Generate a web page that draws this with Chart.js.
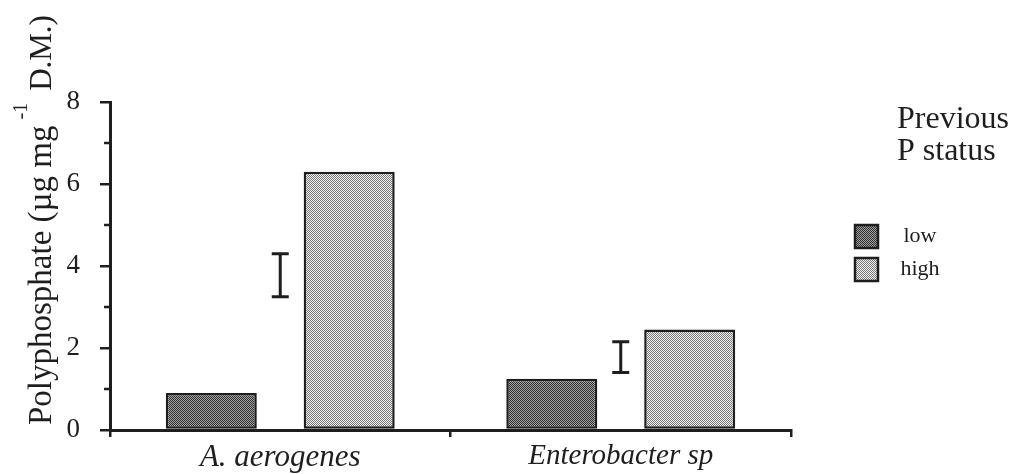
<!DOCTYPE html>
<html>
<head>
<meta charset="utf-8">
<title>Polyphosphate content</title>
<script src="https://cdn.jsdelivr.net/npm/chart.js@4.4.1/dist/chart.umd.min.js"></script>
<style>
  html, body { margin: 0; padding: 0; background: #fff; }
  #wrap { width: 1017px; height: 474px; }
</style>
</head>
<body>
<div id="wrap"><canvas id="polyChart" width="1017" height="474"></canvas></div>
<script>
// data
const categories = ['A. aerogenes', 'Enterobacter sp'];
const lowStatus = [0.9, 1.25];
const highStatus = [6.3, 2.45];
const errLow = [3.25, 1.4];    // bottom of the error bar per organism
const errHigh = [4.3, 2.15];   // top of the error bar per organism
const yTicks = [0, 2, 4, 6, 8];
const yMinorTicks = [1, 3, 5, 7];
const seriesNames = ['low', 'high'];
const legendTitle = ['Previous', 'P status'];

const ink = '#1e1e1e';
const serif = '"Liberation Serif", "Times New Roman", serif';

const canvas = document.getElementById('polyChart');
const ctx2d = canvas.getContext('2d');

// small checker tile used as a stippled fill
function stipple(dark, light) {
    const c = document.createElement('canvas');
    c.width = 2; c.height = 2;
    const g = c.getContext('2d');
    g.fillStyle = light;
    g.fillRect(0, 0, 2, 2);
    g.fillStyle = dark;
    g.fillRect(0, 0, 1, 1);
    g.fillRect(1, 1, 1, 1);
    return ctx2d.createPattern(c, 'repeat');
}
const lowFill = stipple('#2e2e2e', '#a4a4a4');
const highFill = stipple('#777777', '#f2f2f2');

// minor ticks on y and the error bars between each pair of bars
const axisExtras = {
    id: 'axisExtras',
    afterDraw(chart) {
        const { ctx, scales: { x, y } } = chart;
        ctx.save();
        ctx.strokeStyle = ink;
        ctx.lineWidth = 2.5;
        yMinorTicks.forEach(v => {
            const py = y.getPixelForValue(v);
            ctx.beginPath();
            ctx.moveTo(x.left - 6, py);
            ctx.lineTo(x.left, py);
            ctx.stroke();
        });
        ctx.lineWidth = 3;
        errLow.forEach((lo, i) => {
            const px = x.getPixelForValue(i);
            const top = y.getPixelForValue(errHigh[i]);
            const bot = y.getPixelForValue(lo);
            ctx.beginPath();
            ctx.moveTo(px, top); ctx.lineTo(px, bot);
            ctx.moveTo(px - 8.5, top); ctx.lineTo(px + 8.5, top);
            ctx.moveTo(px - 8.5, bot); ctx.lineTo(px + 8.5, bot);
            ctx.stroke();
        });
        ctx.restore();
    }
};

// rotated y title with the superscript unit
const yTitle = {
    id: 'yTitle',
    afterDraw(chart) {
        const { ctx, chartArea } = chart;
        ctx.save();
        ctx.translate(51, chartArea.bottom - 5);
        ctx.rotate(-Math.PI / 2);
        ctx.fillStyle = ink;
        ctx.textBaseline = 'alphabetic';
        ctx.font = '33px ' + serif;
        const main = 'Polyphosphate (\u00b5g mg';
        ctx.fillText(main, 0, 0);
        let cx = ctx.measureText(main).width + 6;
        ctx.font = '20px ' + serif;
        ctx.fillText('-1', cx, -24);
        cx += ctx.measureText('-1').width + 12;
        ctx.font = '31px ' + serif;
        ctx.fillText('D.M.)', cx, 0);
        ctx.restore();
    }
};

// legend block at the right
const sideLegend = {
    id: 'sideLegend',
    afterDraw(chart) {
        const { ctx } = chart;
        ctx.save();
        ctx.fillStyle = ink;
        ctx.textBaseline = 'alphabetic';
        ctx.font = '32px ' + serif;
        legendTitle.forEach((t, i) => ctx.fillText(t, 897, 128 + i * 32));
        ctx.font = '22px ' + serif;
        chart.data.datasets.forEach((ds, i) => {
            const top = 225 + i * 33;
            ctx.fillStyle = ds.backgroundColor;
            ctx.fillRect(855, top, 23, 23);
            ctx.strokeStyle = ink;
            ctx.lineWidth = 2.5;
            ctx.strokeRect(855, top, 23, 23);
            ctx.fillStyle = ink;
            ctx.textAlign = 'center';
            ctx.textBaseline = 'middle';
            ctx.fillText(ds.label, 920, top + 11);
        });
        ctx.restore();
    }
};

new Chart(canvas, {
    type: 'bar',
    data: {
        labels: categories,
        datasets: [
            { label: seriesNames[0], data: lowStatus, backgroundColor: lowFill },
            { label: seriesNames[1], data: highStatus, backgroundColor: highFill }
        ]
    },
    options: {
        responsive: false,
        animation: false,
        layout: { padding: { top: 102, right: 226, left: 0, bottom: 0 } },
        datasets: {
            bar: {
                categoryPercentage: 0.81,
                barPercentage: 0.66,
                borderColor: ink,
                borderWidth: 2.5,
                borderSkipped: false
            }
        },
        plugins: {
            legend: { display: false },
            tooltip: { enabled: false }
        },
        scales: {
            x: {
                afterFit: s => { s.height = 44; },
                grid: { drawOnChartArea: false, color: ink, lineWidth: 2.5, tickLength: 7 },
                border: { color: ink, width: 3 },
                ticks: {
                    color: ink,
                    padding: 2,
                    font: c => ({ family: serif, size: c.index === 0 ? 31 : 29, style: 'italic' })
                }
            },
            y: {
                min: 0,
                max: 8,
                afterFit: s => { s.width = 110; },
                afterBuildTicks: s => { s.ticks = yTicks.map(v => ({ value: v })); },
                grid: { drawOnChartArea: false, color: ink, lineWidth: 2.5, tickLength: 10 },
                border: { color: ink, width: 3 },
                ticks: { color: ink, padding: 20, font: { family: serif, size: 27 } }
            }
        }
    },
    plugins: [axisExtras, yTitle, sideLegend]
});
</script>
</body>
</html>
